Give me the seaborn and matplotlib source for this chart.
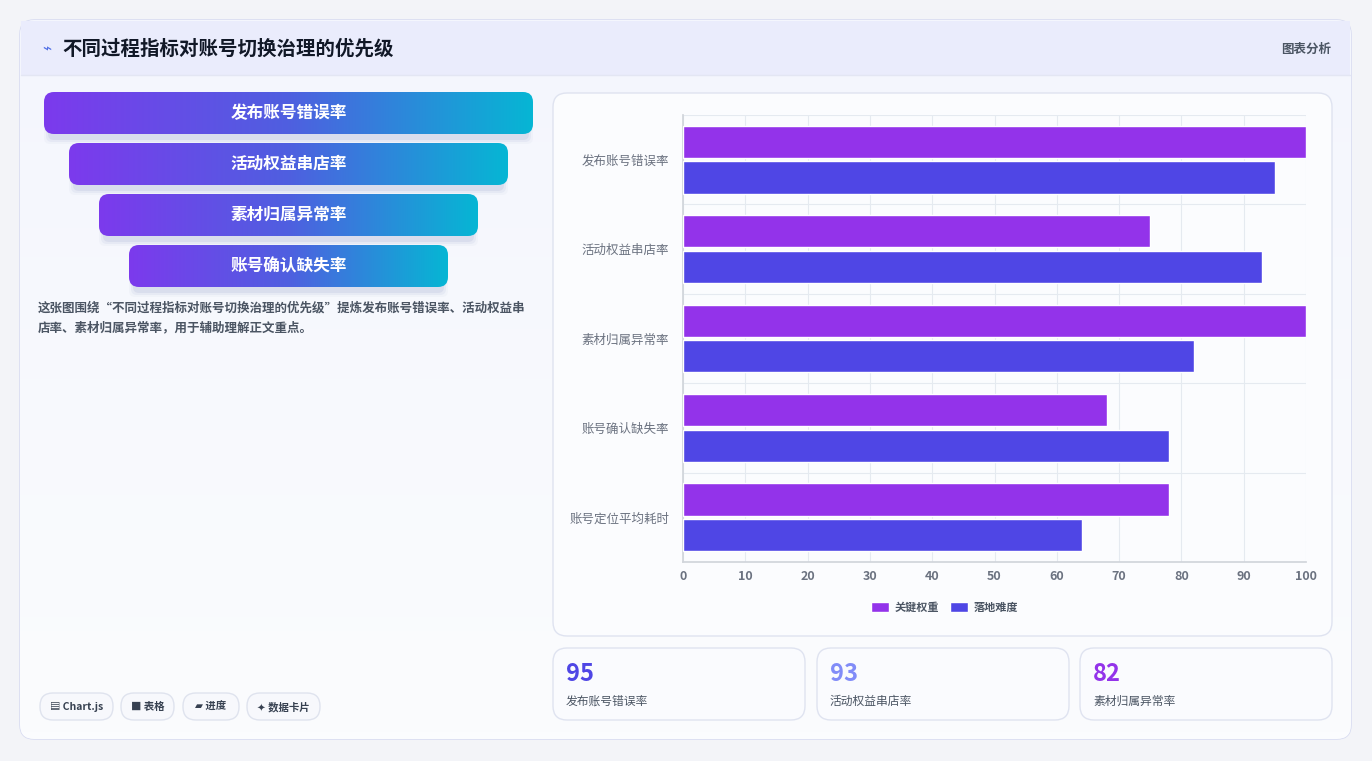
import numpy as np
import pandas as pd
import matplotlib
matplotlib.use('Agg')
import matplotlib.pyplot as plt
from matplotlib.patches import FancyBboxPatch, Rectangle
import seaborn as sns

categories = ['发布账号错误率', '活动权益串店率', '素材归属异常率', '账号确认缺失率', '账号定位平均耗时']
weight = [100, 75, 100, 68, 78]
difficulty = [95, 93, 82, 78, 64]
series_names = ['关键权重', '落地难度']
funnel_labels = ['发布账号错误率', '活动权益串店率', '素材归属异常率', '账号确认缺失率']
card_values = [95, 93, 82]
card_labels = ['发布账号错误率', '活动权益串店率', '素材归属异常率']
card_colors = ['#4f46e5', '#818cf8', '#9333ea']
tags = ['▤ Chart.js', '■ 表格', '▰ 进度', '✦ 数据卡片']

sns.set_theme(style='white')
plt.rcParams['font.family'] = ['Noto Sans CJK SC', 'DejaVu Sans']

W, H = 1372, 761
fig = plt.figure(figsize=(W / 100, H / 100), dpi=100)
fig.patch.set_facecolor('#f3f4f8')

bg = fig.add_axes([0, 0, 1, 1])
bg.set_xlim(0, W)
bg.set_ylim(H, 0)
bg.axis('off')


def rbox(ax, x, y, w, h, r, fc, ec='none', lw=1, z=1):
    p = FancyBboxPatch((x + r, y + r), w - 2 * r, h - 2 * r,
                       boxstyle=f'round,pad={r}', fc=fc, ec=ec, lw=lw, zorder=z)
    ax.add_patch(p)
    return p


# main card
rbox(bg, 20, 20, 1331, 719, 14, '#f8faff', '#d4d8f0', 1)
grad_bg = np.linspace(0, 1, 100).reshape(-1, 1)
img = bg.imshow(grad_bg, extent=(20, 1351, 739, 20), cmap=matplotlib.colors.LinearSegmentedColormap.from_list('b', ['#f4f6fd', '#fbfcfe']), aspect='auto', zorder=1.1)
img.set_clip_path(rbox(bg, 20, 20, 1331, 719, 14, 'none', z=0))
# header
hdr = Rectangle((21, 21), 1329, 54, fc='#eaecfc', ec='none', zorder=1.2)
bg.add_patch(hdr)
bg.plot([21, 1350], [75, 75], color='#e3e6f3', lw=1, zorder=1.3)
bg.text(42, 49, '⌁', color='#4f6ee5', fontsize=11, va='center', zorder=3)
bg.text(62, 49, '不同过程指标对账号切换治理的优先级', fontsize=14, fontweight='bold', color='#111827', va='center', zorder=3)
bg.text(1331, 49, '图表分析', fontsize=9, color='#4b5563', fontweight='bold', va='center', ha='right', zorder=3)

# funnel pills
grad = np.linspace(0, 1, 256).reshape(1, -1)
cmap = matplotlib.colors.LinearSegmentedColormap.from_list('g', ['#7c3aed', '#4f5fe0', '#06b6d4'])
left0, right0 = 44, 533
for i, lab in enumerate(funnel_labels):
    inset = [0, 25, 55, 85][i]
    x0, x1 = left0 + inset, right0 - inset
    y0 = 92 + i * 51
    for k, a in enumerate([0.10, 0.07, 0.04]):
        s = bg.add_patch(FancyBboxPatch((x0 + 10 - 2 * k, y0 + 16), x1 - x0 - 20 + 4 * k, 26 + 2 * k,
                                        boxstyle='round,pad=6', fc='#6b7bb0', ec='none', alpha=a, zorder=1.5))
    clip = rbox(bg, x0, y0, x1 - x0, 42, 10, 'none', z=0)
    im = bg.imshow(grad, extent=(x0, x1, y0 + 42, y0), cmap=cmap, aspect='auto', zorder=2)
    im.set_clip_path(clip)
    bg.text((left0 + right0) / 2, y0 + 21, lab, color='white', fontsize=12, fontweight='bold', ha='center', va='center', zorder=3)

bg.text(38, 308, '这张图围绕“不同过程指标对账号切换治理的优先级”提炼发布账号错误率、活动权益串', fontsize=9, color='#4b5563', fontweight='bold', va='center', zorder=3)
bg.text(38, 328, '店率、素材归属异常率，用于辅助理解正文重点。', fontsize=9, color='#4b5563', fontweight='bold', va='center', zorder=3)

# tags
tx = [40, 121, 183, 247]
tw = [73, 53, 56, 73]
for x, w, t in zip(tx, tw, tags):
    rbox(bg, x, 693, w, 27, 13, '#f7f8fc', '#dfe3ee', z=2)
    bg.text(x + w / 2, 707, t, fontsize=7.5, fontweight='bold', color='#374151', ha='center', va='center', zorder=3)

# chart panel
rbox(bg, 553, 93, 779, 543, 14, '#fbfcfe', '#dfe3f0', z=2)

# stat cards
cx = [553, 817, 1080]
for x, v, lab, c in zip(cx, card_values, card_labels, card_colors):
    rbox(bg, x, 648, 252, 72, 14, '#fafbfe', '#dfe3f0', z=2)
    bg.text(x + 13, 674, str(v), fontsize=17, fontweight='bold', color=c, va='center', zorder=3)
    bg.text(x + 13, 701, lab, fontsize=8.5, color='#4b5563', va='center', zorder=3)

# bar chart
df = pd.DataFrame({
    'cat': categories * 2,
    'val': weight + difficulty,
    'series': [series_names[0]] * len(categories) + [series_names[1]] * len(categories),
})
ax = fig.add_axes([683 / W, 1 - 562 / H, 623 / W, 447 / H])
ax.set_facecolor('none')
sns.barplot(data=df, x='val', y='cat', hue='series', orient='h', saturation=1,
            palette=['#9333ea', '#4f46e5'], width=0.8, gap=0.1, ax=ax, zorder=3)
ax.set_xlim(0, 100)
ax.set_xticks(range(0, 101, 10))
ax.set_xlabel('')
ax.set_ylabel('')
ax.tick_params(axis='x', labelsize=9, colors='#6b7280', length=0, pad=6)
for lbl in ax.get_xticklabels():
    lbl.set_fontweight('bold')
ax.tick_params(axis='y', labelsize=9, colors='#6b7280', length=0, pad=10)
ax.grid(axis='x', color='#e5eaf0', lw=0.8, zorder=0)
for yb in np.arange(-0.5, len(categories), 1):
    ax.axhline(yb, color='#e5eaf0', lw=0.8, zorder=0)
for s in ['top', 'right']:
    ax.spines[s].set_visible(False)
ax.spines['left'].set_color('#d1d5db')
ax.spines['bottom'].set_color('#d1d5db')
leg = ax.legend(loc='upper center', bbox_to_anchor=(0.42, -0.065), ncol=2, frameon=False,
                fontsize=8, handlelength=1.6, handleheight=1.0, columnspacing=1.0, handletextpad=0.5)
for t in leg.get_texts():
    t.set_color('#4b5563')
    t.set_fontweight('bold')

fig.savefig('out.png', dpi=100, facecolor=fig.get_facecolor())
